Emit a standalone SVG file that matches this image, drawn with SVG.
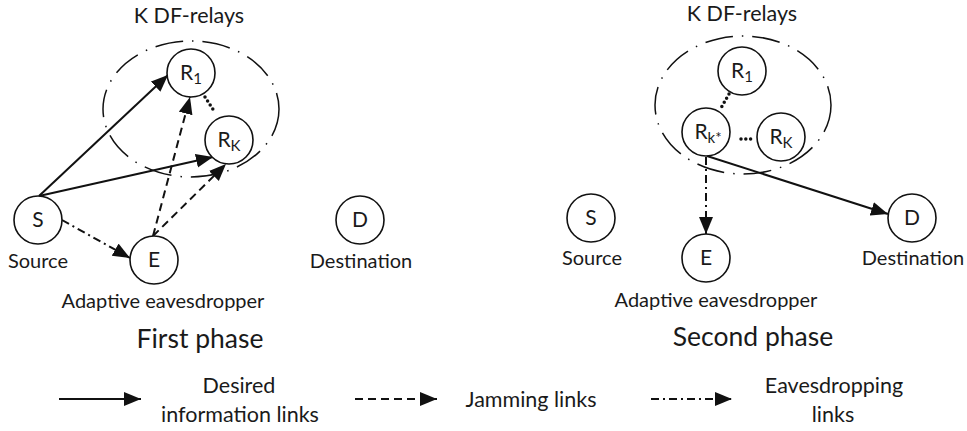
<svg xmlns="http://www.w3.org/2000/svg" width="967" height="431" viewBox="0 0 967 431">
<style>
text{font-family:Lato,"Liberation Sans",sans-serif;fill:#1a1a1a;text-anchor:middle}
.n{font-size:21px}
.lb{font-size:20px}
.lg{font-size:21.5px}
.ph{font-size:26.5px}
.sub{font-size:15px}
circle{fill:#fff;stroke:#111;stroke-width:1.6}
.grp{fill:none;stroke:#111;stroke-width:1.5;stroke-dasharray:28 9 1.5 9}
.c{fill:none;stroke:#111;stroke-width:2}
.dash{stroke-dasharray:8 5}
.dd{stroke-dasharray:8 4 2 4}
.dot{fill:none;stroke:#111;stroke-width:3.5;stroke-linecap:round;stroke-dasharray:0 4.8}
</style>
<defs>
<marker id="ah" markerUnits="userSpaceOnUse" markerWidth="18" markerHeight="15" refX="17" refY="7" orient="auto">
<path d="M0,0 L17,7 L0,14 z" fill="#111"/>
</marker>
</defs>
<rect width="967" height="431" fill="#fff"/>

<!-- first phase -->
<text class="lg" x="189" y="23">K DF-relays</text>
<ellipse class="grp" cx="191" cy="109" rx="88" ry="68"/>
<g id="connectors">
<line class="c" x1="39" y1="196" x2="168" y2="75" marker-end="url(#ah)"/>
<line class="c" x1="39" y1="196" x2="213" y2="157" marker-end="url(#ah)"/>
<line class="c dash" x1="153" y1="236" x2="190" y2="97" marker-end="url(#ah)"/>
<line class="c dash" x1="153" y1="236" x2="226" y2="164" marker-end="url(#ah)"/>
<line class="c dd" x1="62" y1="220" x2="130" y2="258" marker-end="url(#ah)"/>
<line class="dot" x1="205" y1="97" x2="214" y2="111"/>
<line class="c" x1="707" y1="156" x2="888" y2="214" marker-end="url(#ah)"/>
<line class="c dd" x1="706" y1="157" x2="706" y2="234" marker-end="url(#ah)"/>
<line class="dot" x1="729" y1="94" x2="721" y2="108"/>
<line class="dot" x1="741" y1="139" x2="751" y2="139"/>
</g>
<g id="p1-R1"><circle cx="191" cy="73" r="24"/><text class="n" x="191" y="80">R<tspan class="sub" dy="4">1</tspan></text></g>
<g id="p1-RK"><circle cx="229" cy="140" r="24"/><text class="n" x="229" y="147">R<tspan class="sub" dy="4">K</tspan></text></g>
<g id="p1-S"><circle cx="38" cy="220" r="24"/><text class="n" x="38" y="227">S</text><text class="lb" x="38" y="268">Source</text></g>
<g id="p1-E"><circle cx="154" cy="260" r="24"/><text class="n" x="154" y="267">E</text><text class="lb" x="163" y="308">Adaptive eavesdropper</text></g>
<g id="p1-D"><circle cx="360" cy="220" r="24"/><text class="n" x="360" y="227">D</text><text class="lb" x="361" y="268">Destination</text></g>
<text class="ph" x="200" y="348">First phase</text>

<!-- second phase -->
<text class="lg" x="742" y="21">K DF-relays</text>
<ellipse class="grp" cx="743" cy="105" rx="88" ry="69"/>
<g id="p2-R1"><circle cx="742" cy="71" r="24"/><text class="n" x="742" y="78">R<tspan class="sub" dy="4">1</tspan></text></g>
<g id="p2-Rkstar"><circle cx="706" cy="132" r="24"/><text class="n" x="708" y="139">R<tspan class="sub" dy="4">k*</tspan></text></g>
<g id="p2-RK"><circle cx="781" cy="137" r="24"/><text class="n" x="781" y="144">R<tspan class="sub" dy="4">K</tspan></text></g>
<g id="p2-S"><circle cx="591" cy="218" r="24"/><text class="n" x="591" y="225">S</text><text class="lb" x="592" y="265">Source</text></g>
<g id="p2-E"><circle cx="706" cy="258" r="24"/><text class="n" x="706" y="265">E</text><text class="lb" x="716" y="307">Adaptive eavesdropper</text></g>
<g id="p2-D"><circle cx="912" cy="218" r="24"/><text class="n" x="912" y="225">D</text><text class="lb" x="913" y="265">Destination</text></g>
<text class="ph" x="753" y="346">Second phase</text>

<!-- legend -->
<g id="legend">
<line class="c" x1="59" y1="399" x2="141" y2="399" marker-end="url(#ah)"/>
<text class="lg" x="239" y="393">Desired</text>
<text class="lg" x="240" y="422">information links</text>
<line class="c dash" x1="355" y1="399" x2="437" y2="399" marker-end="url(#ah)"/>
<text class="lg" x="531" y="407">Jamming links</text>
<line class="c dd" x1="651" y1="399" x2="732" y2="399" marker-end="url(#ah)"/>
<text class="lg" x="834" y="393">Eavesdropping</text>
<text class="lg" x="833" y="422">links</text>
</g>
</svg>
